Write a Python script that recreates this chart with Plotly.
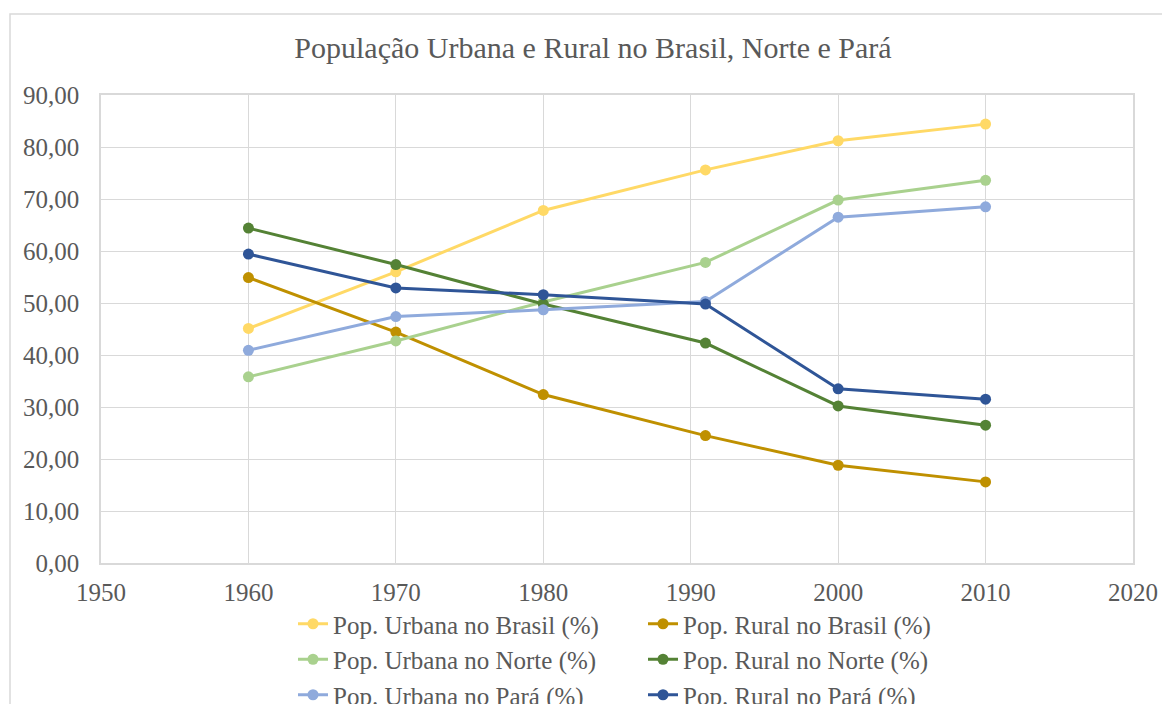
import plotly.graph_objects as go

years = [1960, 1970, 1980, 1991, 2000, 2010]

urbana_brasil = [45.1, 56.0, 67.8, 75.6, 81.2, 84.4]
rural_brasil = [54.9, 44.4, 32.4, 24.5, 18.8, 15.6]
urbana_norte = [35.8, 42.7, 50.2, 57.8, 69.8, 73.6]
rural_norte = [64.4, 57.4, 49.8, 42.3, 30.2, 26.5]
urbana_para = [40.9, 47.4, 48.7, 50.3, 66.5, 68.5]
rural_para = [59.4, 52.9, 51.6, 49.8, 33.5, 31.5]

series_names = [
    "Pop. Urbana no Brasil (%)",
    "Pop. Rural no Brasil (%)",
    "Pop. Urbana no Norte (%)",
    "Pop. Rural no Norte (%)",
    "Pop. Urbana no Pará (%)",
    "Pop. Rural no Pará (%)",
]
series_values = [urbana_brasil, rural_brasil, urbana_norte, rural_norte, urbana_para, rural_para]
colors = ["#FFD966", "#BF9000", "#A9D18E", "#548235", "#8FAADC", "#2F5597"]

title_text = "População Urbana e Rural no Brasil, Norte e Pará"
x_ticks = [1950, 1960, 1970, 1980, 1990, 2000, 2010, 2020]
y_ticks = [0, 10, 20, 30, 40, 50, 60, 70, 80, 90]

FONT = "Liberation Serif"
TXT = "#595959"
GRID = "#D9D9D9"

fig = go.Figure()
for name, vals, col in zip(series_names, series_values, colors):
    fig.add_trace(go.Scatter(
        x=years, y=vals, name=name, mode="lines+markers",
        line=dict(color=col, width=3),
        marker=dict(color=col, size=11),
    ))

# page body has an 8px margin; work in screen pixels and convert
OFF = 8
W, H = 1162, 696
SL, ST, SR, SB = 101, 95, 1133, 563   # plot area in screen pixels
L, T = SL - OFF, ST - OFF
R = W - (SR - OFF)
B = H - (SB - OFF)
pw, ph = W - L - R, H - T - B

def sx(px):
    return (px - SL) / pw

def sy(py):
    return (SB - py) / ph

fig.update_layout(
    width=W, height=H,
    margin=dict(l=L, r=R, t=T, b=B, autoexpand=False),
    paper_bgcolor="white", plot_bgcolor="white",
    separators=",.",
    font=dict(family=FONT, color=TXT, size=25),
    title=dict(text=title_text, x=(593 - OFF) / W, xanchor="center", y=1 - (47 - OFF) / H,
               yanchor="middle", font=dict(family=FONT, size=30, color=TXT)),
    xaxis=dict(range=[1950, 2020], tickvals=x_ticks, showgrid=True, gridcolor=GRID, gridwidth=1.3,
               showline=True, linecolor=GRID, linewidth=1.5, mirror=True, zeroline=False,
               ticks="", ticklabelstandoff=6, tickfont=dict(size=25, color=TXT, family=FONT)),
    yaxis=dict(range=[0, 90], tickvals=y_ticks, tickformat=".2f", showgrid=True, gridcolor=GRID,
               gridwidth=1.3, showline=True, linecolor=GRID, linewidth=1.5, mirror=True, zeroline=False,
               ticks="", ticklabelstandoff=15, tickfont=dict(size=25, color=TXT, family=FONT)),
    legend=dict(orientation="h", x=sx(293), xanchor="left",
                y=sy(601), yanchor="top", entrywidth=305,
                font=dict(size=25, color=TXT, family=FONT), bgcolor="rgba(0,0,0,0)",
                traceorder="normal"),
    showlegend=True,
    shapes=[dict(type="rect", xref="paper", yref="paper",
                 x0=sx(10), x1=sx(1169),
                 y0=sy(720), y1=sy(14),
                 line=dict(color=GRID, width=1.5), fillcolor="rgba(0,0,0,0)", layer="below")],
)

fig.write_html("out.html")
